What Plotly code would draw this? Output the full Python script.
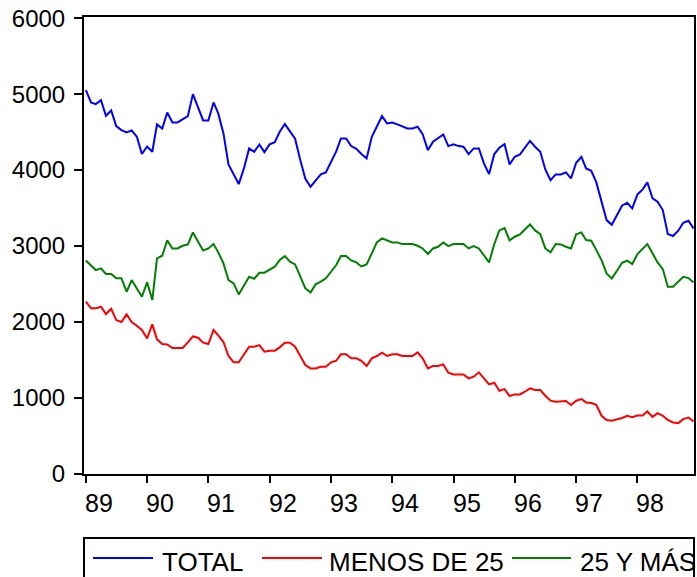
import pandas as pd
import plotly.graph_objects as go

# Monthly series, January 1989 - December 1998
start = "1989-01-01"

total = [
    5053, 4890, 4868, 4921, 4715, 4785, 4579, 4526, 4496, 4522, 4439, 4211,
    4311, 4241, 4601, 4548, 4759, 4627, 4627, 4667, 4711, 5000, 4833, 4654,
    4654, 4890, 4746, 4483, 4075, 3934, 3816, 4022, 4285, 4241, 4338, 4237,
    4338, 4368, 4504, 4605, 4518, 4412, 4140, 3886, 3781, 3855, 3943, 3969,
    4105, 4246, 4417, 4417, 4316, 4281, 4211, 4154, 4439, 4583, 4711, 4614,
    4627, 4601, 4579, 4548, 4548, 4570, 4474, 4263, 4373, 4417, 4469, 4316,
    4338, 4316, 4307, 4211, 4285, 4285, 4088, 3947, 4211, 4294, 4342, 4075,
    4175, 4206, 4298, 4386, 4307, 4241, 4009, 3868, 3943, 3943, 3969, 3890,
    4096, 4175, 4022, 3991, 3838, 3583, 3342, 3280, 3400, 3531, 3570, 3496,
    3680, 3746, 3838, 3627, 3583, 3474, 3158, 3132, 3202, 3307, 3333, 3233,
]

menos_de_25 = [
    2268, 2180, 2180, 2202, 2105, 2175, 2026, 2000, 2101, 2000, 1952, 1895,
    1785, 1969, 1772, 1711, 1706, 1658, 1658, 1658, 1732, 1811, 1794, 1728,
    1711, 1895, 1825, 1737, 1553, 1470, 1470, 1566, 1675, 1675, 1697, 1610,
    1623, 1623, 1667, 1728, 1728, 1675, 1553, 1434, 1390, 1390, 1412, 1412,
    1470, 1491, 1575, 1575, 1522, 1522, 1491, 1421, 1522, 1553, 1596, 1553,
    1575, 1575, 1553, 1553, 1553, 1601, 1522, 1390, 1421, 1421, 1443, 1333,
    1311, 1311, 1311, 1259, 1281, 1338, 1259, 1180, 1202, 1096, 1118, 1026,
    1048, 1048, 1083, 1127, 1105, 1105, 1030, 965, 951, 951, 960, 908,
    965, 987, 942, 934, 912, 766, 711, 700, 717, 737, 766, 748,
    770, 770, 823, 752, 801, 766, 711, 678, 670, 722, 743, 691,
]

mas_de_25 = [
    2811, 2741, 2684, 2706, 2632, 2632, 2575, 2575, 2399, 2553, 2443, 2333,
    2522, 2289, 2838, 2873, 3075, 2969, 2969, 3004, 3022, 3180, 3057, 2943,
    2969, 3026, 2917, 2772, 2553, 2509, 2364, 2482, 2596, 2570, 2649, 2649,
    2693, 2728, 2816, 2868, 2794, 2759, 2605, 2443, 2390, 2496, 2531, 2575,
    2662, 2750, 2868, 2868, 2811, 2785, 2732, 2759, 2904, 3048, 3101, 3079,
    3048, 3048, 3026, 3026, 3026, 3004, 2969, 2895, 2969, 2991, 3048, 3000,
    3026, 3026, 3026, 2969, 3000, 2969, 2882, 2785, 3026, 3206, 3237, 3075,
    3123, 3154, 3219, 3285, 3206, 3158, 2969, 2917, 3026, 3022, 2991, 2969,
    3154, 3180, 3079, 3070, 2947, 2816, 2640, 2575, 2675, 2781, 2807, 2763,
    2895, 2961, 3026, 2904, 2785, 2697, 2465, 2465, 2531, 2596, 2579, 2522,
]

years = list(range(1989, 1999))
year_labels = ["89", "90", "91", "92", "93", "94", "95", "96", "97", "98"]
y_ticks = [0, 1000, 2000, 3000, 4000, 5000, 6000]

series_names = ["TOTAL", "MENOS DE 25", "25 Y MÁS"]
series_colors = ["#0000FF", "#FF0000", "#008000"]

dates = pd.date_range(start, periods=len(total), freq="MS")

W, H = 697, 577
ML, MR, MT, MB = 84, 3, 17, 103
PW, PH = W - ML - MR, H - MT - MB
FONT = "Liberation Sans, Arial, sans-serif"


def px_x(px):
    return (px - ML) / PW


def px_y(py):
    return (H - MB - py) / PH


fig = go.Figure()
for name, vals, col in zip(series_names, [total, menos_de_25, mas_de_25], series_colors):
    fig.add_trace(go.Scatter(
        x=dates, y=vals, mode="lines", name=name,
        line=dict(color=col, width=2), showlegend=False,
    ))

# year labels sit to the right of their tick marks
annotations = []
for yr, lab in zip(years, year_labels):
    annotations.append(dict(
        x=f"{yr}-01-01", y=px_y(503), xref="x", yref="paper",
        text=lab, showarrow=False, xanchor="left", yanchor="middle",
        xshift=-3, font=dict(family=FONT, size=25, color="black"),
    ))

# legend box below the plot
shapes = [dict(
    type="rect", xref="paper", yref="paper",
    x0=px_x(84), x1=px_x(694), y0=px_y(538), y1=px_y(600),
    line=dict(color="black", width=2), fillcolor="rgba(0,0,0,0)",
)]
legend_items = [(93, 153, 163), (262, 322, 330), (512, 571, 581)]
for (lx0, lx1, tx), name, col in zip(legend_items, series_names, series_colors):
    shapes.append(dict(
        type="line", xref="paper", yref="paper",
        x0=px_x(lx0), x1=px_x(lx1), y0=px_y(558), y1=px_y(558),
        line=dict(color=col, width=2),
    ))
    annotations.append(dict(
        x=px_x(tx), y=px_y(562), xref="paper", yref="paper",
        text=name, showarrow=False, xanchor="left", yanchor="middle",
        xshift=-3, font=dict(family=FONT, size=26, color="black"),
    ))

fig.update_layout(
    width=W, height=H,
    margin=dict(l=ML, r=MR, t=MT, b=MB, autoexpand=False),
    paper_bgcolor="white", plot_bgcolor="white",
    font=dict(family=FONT, size=24, color="black"),
    showlegend=False,
    annotations=annotations,
    shapes=shapes,
    xaxis=dict(
        type="date",
        range=["1988-12-21", "1998-12-04"],
        tickvals=[f"{y}-01-01" for y in years],
        showticklabels=False,
        ticks="outside", ticklen=7, tickwidth=1.5, tickcolor="black",
        showline=True, linecolor="black", linewidth=2, mirror=True,
        showgrid=False, zeroline=False,
    ),
    yaxis=dict(
        range=[0, 6015],
        tickvals=y_ticks,
        ticks="outside", ticklen=8, tickwidth=1.5, tickcolor="black",
        tickfont=dict(family=FONT, size=24, color="black"),
        ticklabelstandoff=4,
        showline=True, linecolor="black", linewidth=2, mirror=True,
        showgrid=False, zeroline=False,
    ),
)

fig.write_html("out.html")
